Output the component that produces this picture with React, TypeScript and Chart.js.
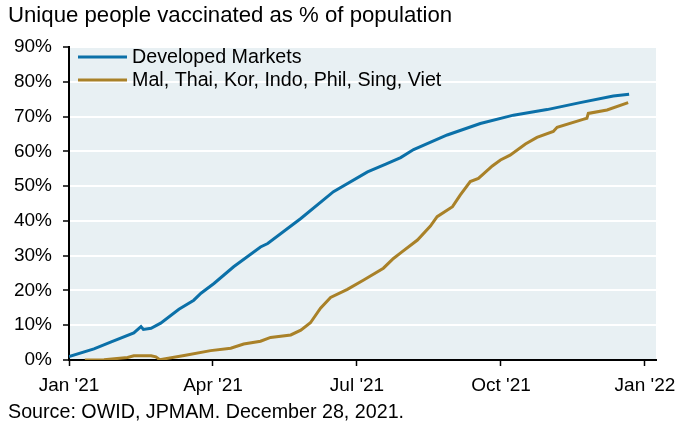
import React, { useEffect, useRef } from "react";
import { Chart, registerables } from "chart.js";

Chart.register(...registerables);

const FONT = "'Liberation Sans', Arial, Helvetica, sans-serif";

const titleText = "Unique people vaccinated as % of population";
const sourceText = "Source: OWID, JPMAM. December 28, 2021.";
const seriesLabels = ["Developed Markets", "Mal, Thai, Kor, Indo, Phil, Sing, Viet"];
const seriesColors = ["#0b70a8", "#a98128"];

// x values are months since Jan 1 2021 (0 = Jan '21, 12 = Jan '22)
const xTickValues = [0, 3, 6, 9, 12];
const xTickLabels = ["Jan '21", "Apr '21", "Jul '21", "Oct '21", "Jan '22"];
const yTickValues = [0, 10, 20, 30, 40, 50, 60, 70, 80, 90];

const devX = [0, 0.52, 0.88, 1.35, 1.5, 1.55, 1.71, 1.91, 2.29, 2.6, 2.75, 3.02, 3.43, 3.99, 4.14, 4.83, 5.51, 6.22, 6.6, 6.91, 7.18, 7.88, 8.57, 9.26, 9.96, 10.65, 11.34, 11.67];
const devY = [1.0, 3.2, 5.2, 7.8, 9.6, 8.8, 9.1, 10.6, 14.6, 17.2, 19.2, 22.0, 26.8, 32.5, 33.5, 40.7, 48.4, 54.1, 56.3, 58.2, 60.5, 64.7, 68.0, 70.4, 72.0, 74.0, 75.9, 76.4];

const asnX = [0.33, 0.73, 1.22, 1.35, 1.71, 1.81, 1.89, 2.4, 2.95, 3.37, 3.64, 3.99, 4.2, 4.62, 4.83, 5.03, 5.24, 5.45, 5.8, 6.14, 6.55, 6.76, 6.91, 7.26, 7.53, 7.67, 7.99, 8.15, 8.36, 8.53, 8.82, 8.99, 9.19, 9.51, 9.75, 10.09, 10.17, 10.71, 10.79, 10.82, 11.21, 11.65];
const asnY = [0.0, 0.1, 0.7, 1.2, 1.2, 0.9, 0.1, 1.3, 2.7, 3.4, 4.6, 5.4, 6.5, 7.2, 8.6, 10.7, 14.9, 18.0, 20.3, 23.0, 26.4, 29.2, 30.8, 34.5, 38.5, 41.2, 44.1, 47.4, 51.3, 52.2, 55.8, 57.5, 58.9, 62.1, 64.0, 65.7, 66.9, 69.2, 69.5, 70.9, 71.9, 74.0];

const toPoints = (xs: number[], ys: number[]) => xs.map((x, i) => ({ x, y: ys[i] }));

const chromePlugin = {
  id: "chrome",
  beforeDraw(chart: any) {
    const { ctx, chartArea } = chart;
    ctx.save();
    ctx.fillStyle = "#e8f0f3";
    ctx.fillRect(chartArea.left, chartArea.top, chartArea.right - chartArea.left, chartArea.bottom - chartArea.top);
    ctx.restore();
  },
  afterDraw(chart: any) {
    const { ctx, chartArea } = chart;
    ctx.save();
    ctx.fillStyle = "#000";
    ctx.textAlign = "left";
    ctx.textBaseline = "alphabetic";
    ctx.font = `22.2px ${FONT}`;
    ctx.fillText(titleText, 8, 22);
    ctx.font = `19.7px ${FONT}`;
    ctx.fillText(sourceText, 8, 418);

    // legend
    chart.data.datasets.forEach((ds: any, i: number) => {
      const y = chartArea.top + 10 + i * 23;
      ctx.strokeStyle = ds.borderColor;
      ctx.lineWidth = 3;
      ctx.beginPath();
      ctx.moveTo(chartArea.left + 9, y);
      ctx.lineTo(chartArea.left + 58, y);
      ctx.stroke();
      ctx.fillStyle = "#000";
      ctx.font = `19.7px ${FONT}`;
      ctx.textBaseline = "middle";
      ctx.fillText(ds.label, chartArea.left + 63, y + 1);
    });
    ctx.restore();
  },
};

export default function App() {
  const ref = useRef<HTMLCanvasElement | null>(null);

  useEffect(() => {
    if (!ref.current) return;
    const chart = new Chart(ref.current, {
      type: "line",
      data: {
        datasets: [
          {
            label: seriesLabels[0],
            data: toPoints(devX, devY),
            borderColor: seriesColors[0],
            backgroundColor: seriesColors[0],
            borderWidth: 3,
            pointRadius: 0,
            tension: 0,
          },
          {
            label: seriesLabels[1],
            data: toPoints(asnX, asnY),
            borderColor: seriesColors[1],
            backgroundColor: seriesColors[1],
            borderWidth: 3,
            pointRadius: 0,
            tension: 0,
          },
        ],
      },
      options: {
        responsive: false,
        animation: false,
        events: [],
        layout: { padding: { left: 0, top: 47, right: 36, bottom: 29 } },
        plugins: {
          legend: { display: false },
          title: { display: false },
          tooltip: { enabled: false },
        },
        scales: {
          x: {
            type: "linear",
            min: 0,
            max: 12.23,
            afterFit: (s: any) => {
              s.height = 40;
            },
            afterBuildTicks: (s: any) => {
              s.ticks = xTickValues.map((v) => ({ value: v }));
            },
            grid: {
              drawOnChartArea: false,
              drawTicks: true,
              tickLength: 6,
              tickColor: "#000",
              tickWidth: 1.5,
            },
            border: { display: true, color: "#000", width: 2 },
            ticks: {
              color: "#000",
              font: { family: FONT, size: 19 },
              padding: 8,
              maxRotation: 0,
              autoSkip: false,
              callback: (v: any) => {
                const i = xTickValues.indexOf(Number(v));
                return i >= 0 ? xTickLabels[i] : "";
              },
            },
          },
          y: {
            min: 0,
            max: 90,
            afterFit: (s: any) => {
              s.width = 69;
            },
            afterBuildTicks: (s: any) => {
              s.ticks = yTickValues.map((v) => ({ value: v }));
            },
            grid: {
              drawOnChartArea: true,
              drawTicks: true,
              tickLength: 6,
              tickColor: "#000",
              tickWidth: 1.5,
              lineWidth: 2,
              color: (c: any) => (c.tick && c.tick.value === 0 ? "rgba(0,0,0,0)" : "#ffffff"),
            },
            border: { display: true, color: "#000", width: 2 },
            ticks: {
              color: "#000",
              font: { family: FONT, size: 19 },
              padding: 11,
              callback: (v: any) => `${v}%`,
            },
          },
        },
      },
      plugins: [chromePlugin],
    } as any);
    return () => chart.destroy();
  }, []);

  return (
    <div style={{ position: "fixed", left: 0, top: 0, width: 692, height: 429, background: "#fff" }}>
      <canvas ref={ref} width={692} height={429} style={{ display: "block" }} />
    </div>
  );
}
